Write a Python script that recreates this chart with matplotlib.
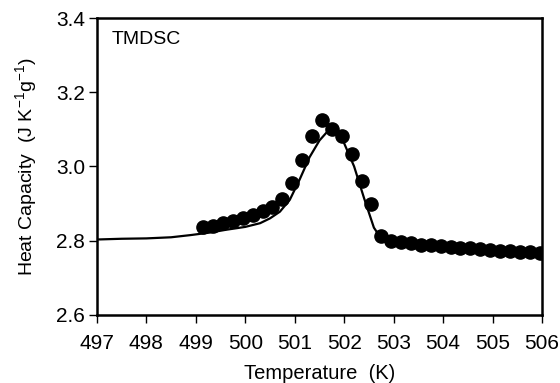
#!/usr/bin/env python3
"""TMDSC heat capacity vs temperature: measured points and model curve."""
import matplotlib
matplotlib.use("Agg")
import matplotlib.pyplot as plt

plt.rcParams["font.family"] = ["Liberation Sans", "DejaVu Sans"]

# measured TMDSC points
temp_pts = [499.15, 499.35, 499.55, 499.75, 499.95, 500.15, 500.35, 500.55,
            500.75, 500.95, 501.15, 501.35, 501.55, 501.75, 501.95, 502.15,
            502.35, 502.55, 502.75, 502.95, 503.15, 503.35, 503.55, 503.75,
            503.95, 504.15, 504.35, 504.55, 504.75, 504.95, 505.15, 505.35,
            505.55, 505.75, 505.95]
cp_pts = [2.836, 2.839, 2.847, 2.854, 2.860, 2.870, 2.880, 2.891,
          2.911, 2.954, 3.017, 3.083, 3.125, 3.100, 3.082, 3.033,
          2.961, 2.900, 2.812, 2.799, 2.795, 2.793, 2.789, 2.787,
          2.785, 2.783, 2.781, 2.779, 2.777, 2.775, 2.773, 2.771,
          2.770, 2.768, 2.767]

# model curve
temp_line = [497.0, 497.5, 498.0, 498.5, 498.9, 499.3, 499.6, 500.0, 500.3,
             500.5, 500.7, 500.9, 501.1, 501.3, 501.5, 501.7, 501.8, 501.9,
             502.0, 502.2, 502.4, 502.6, 502.75, 502.9, 503.2, 503.6, 504.0,
             504.5, 505.0, 505.5, 506.0]
cp_line = [2.803, 2.805, 2.806, 2.809, 2.815, 2.822, 2.829, 2.837, 2.847,
           2.860, 2.878, 2.910, 2.965, 3.025, 3.070, 3.100, 3.102, 3.090,
           3.062, 3.000, 2.915, 2.835, 2.805, 2.798, 2.794, 2.789, 2.785,
           2.780, 2.775, 2.771, 2.768]

xticks = [497, 498, 499, 500, 501, 502, 503, 504, 505, 506]
yticks = [2.6, 2.8, 3.0, 3.2, 3.4]

fig = plt.figure(figsize=(5.6, 3.83), dpi=100)
ax = fig.add_axes([0.173, 0.178, 0.795, 0.775])

ax.plot(temp_line, cp_line, "-", color="black", lw=1.6, zorder=2)
ax.plot(temp_pts, cp_pts, "o", color="black", ms=9.5, zorder=3)

ax.set_xlim(497, 506)
ax.set_ylim(2.6, 3.4)
ax.set_xticks(xticks)
ax.set_yticks(yticks)
ax.set_yticklabels([f"{v:.1f}" for v in yticks])
ax.tick_params(direction="out", length=5.5, width=1.0, labelsize=15)
ax.tick_params(axis="x", pad=8)
ax.tick_params(axis="y", pad=3)
for sp in ax.spines.values():
    sp.set_linewidth(1.8)

ax.set_xlabel("Temperature  (K)", fontsize=14.5)
ax.set_ylabel(r"Heat Capacity  (J K$^{\mathregular{-1}}$g$^{\mathregular{-1}}$)",
              fontsize=14)
ax.xaxis.set_label_coords(0.5, -0.165)
ax.yaxis.set_label_coords(-0.128, 0.5)
ax.text(0.034, 0.955, "TMDSC", transform=ax.transAxes, fontsize=14,
        ha="left", va="top")

fig.savefig("out.png", dpi=100)
